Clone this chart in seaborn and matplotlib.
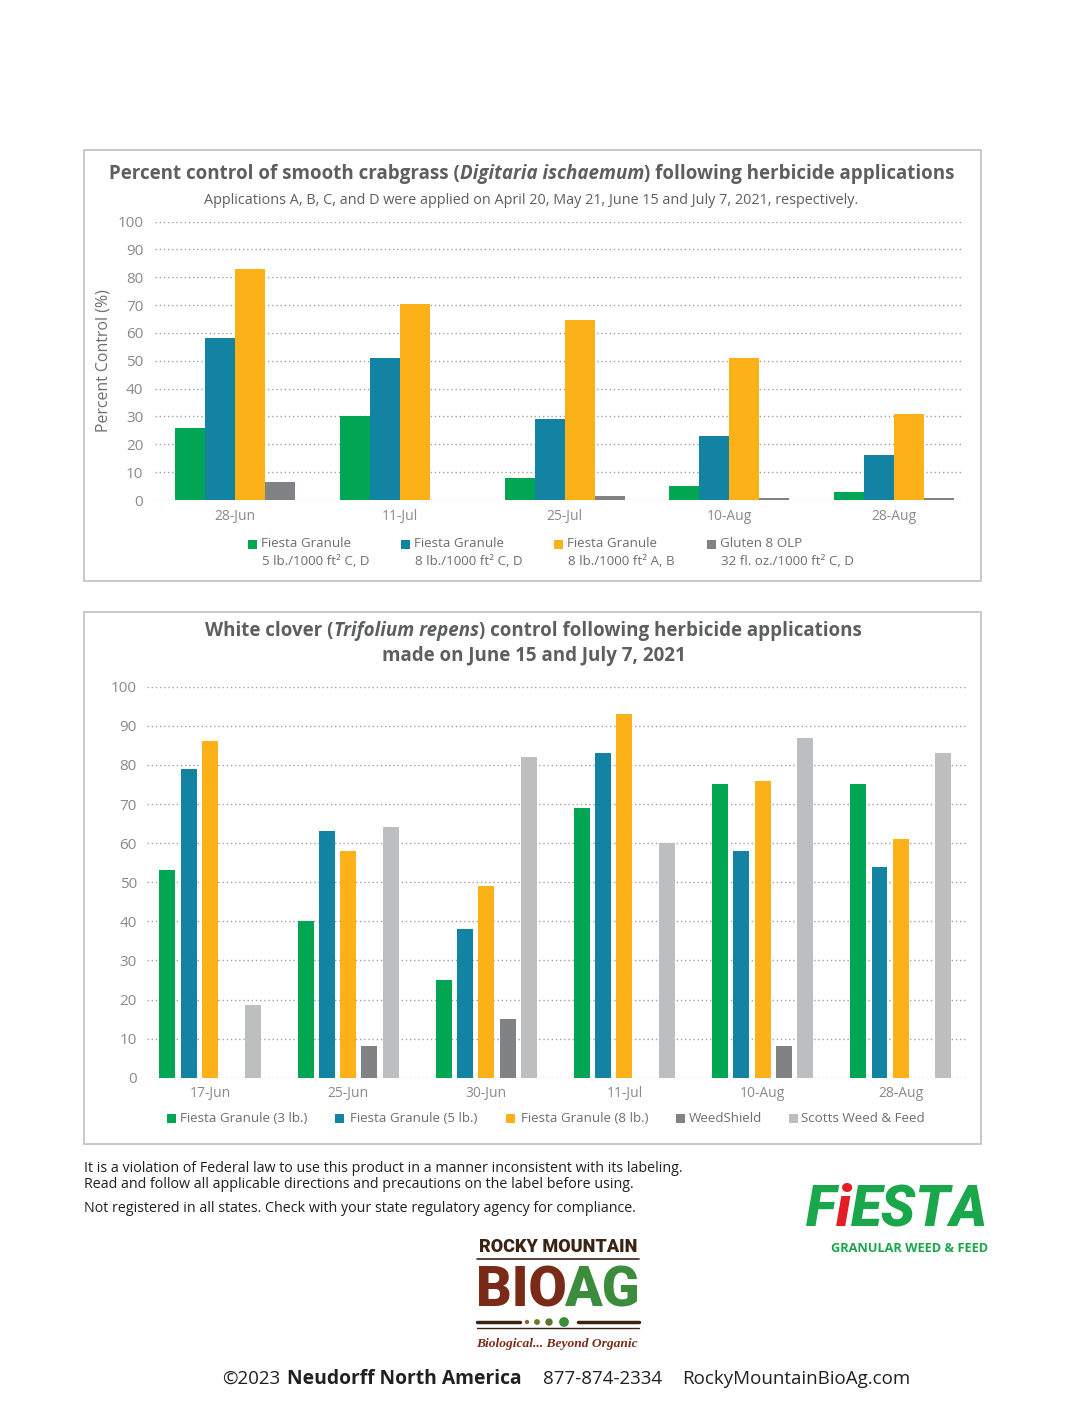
import matplotlib
matplotlib.use('Agg')
import matplotlib.pyplot as plt
import seaborn as sns
import pandas as pd
import numpy as np
from matplotlib.patches import Rectangle, Ellipse
from matplotlib.lines import Line2D
from matplotlib.offsetbox import TextArea, HPacker, AnnotationBbox

# ---------------- data ----------------
crab_dates = ['28-Jun', '11-Jul', '25-Jul', '10-Aug', '28-Aug']
crab_fg5_cd = [26, 30, 8, 5, 3]
crab_fg8_cd = [58, 51, 29, 23, 16]
crab_fg8_ab = [83, 70.5, 64.5, 51, 31]
crab_gluten = [6.5, 0, 1.5, 0.7, 0.6]
crab_names = ['Fiesta Granule 5 C,D', 'Fiesta Granule 8 C,D', 'Fiesta Granule 8 A,B', 'Gluten 8 OLP']
crab_leg1 = ['Fiesta Granule', 'Fiesta Granule', 'Fiesta Granule', 'Gluten 8 OLP']
crab_leg2 = ['5 lb./1000 ft² C, D', '8 lb./1000 ft² C, D', '8 lb./1000 ft² A, B', '32 fl. oz./1000 ft² C, D']

clover_dates = ['17-Jun', '25-Jun', '30-Jun', '11-Jul', '10-Aug', '28-Aug']
clover_fg3 = [53, 40, 25, 69, 75, 75]
clover_fg5 = [79, 63, 38, 83, 58, 54]
clover_fg8 = [86, 58, 49, 93, 76, 61]
clover_weed = [0, 8, 15, 0, 8, 0]
clover_scotts = [18.5, 64, 82, 60, 87, 83]
clover_names = ['Fiesta Granule (3 lb.)', 'Fiesta Granule (5 lb.)', 'Fiesta Granule (8 lb.)',
                'WeedShield', 'Scotts Weed & Feed']

yticks = list(range(0, 101, 10))

crab_colors = ['#00a651', '#1283a3', '#fdb119', '#808285']
clover_colors = ['#00a651', '#1283a3', '#fdb119', '#808285', '#bcbec0']

# ---------------- setup ----------------
sns.set_theme(style='white')
FAM = ['Open Sans', 'DejaVu Sans']
plt.rcParams['font.family'] = FAM

W, H = 1065, 1420
fig = plt.figure(figsize=(W / 100, H / 100), dpi=100)
fig.patch.set_facecolor('white')

TXT = '#6d6e71'
TTL = '#5d5e60'
TICK = '#8a8a8a'


def fx(x):
    return x / W


def fy(y):
    return 1 - y / H


def rich(pieces, x, y, size, color=TTL, weight='bold', ha=0.5, family=FAM):
    children = []
    for piece in pieces:
        txt, style = piece[0], piece[1]
        col = piece[2] if len(piece) > 2 else color
        props = dict(size=size, color=col, weight=weight, style=style, family=family)
        children.append(TextArea(txt, textprops=props))
    box = HPacker(children=children, align='baseline', pad=0, sep=0)
    ab = AnnotationBbox(box, (fx(x), fy(y)), xycoords='figure fraction',
                        box_alignment=(ha, 0.5), frameon=False, pad=0)
    fig.add_artist(ab)


# panel frames
for (x0, y0, x1, y1) in [(84, 150, 981, 581), (84, 612, 981, 1144)]:
    fig.add_artist(Rectangle((fx(x0), fy(y1)), fx(x1) - fx(x0), fy(y0) - fy(y1),
                             transform=fig.transFigure, fill=False,
                             edgecolor='#c9c9c9', lw=1.4))

GRID = dict(color='#a0a0a0', lw=1.0, linestyle=(0, (1, 2.0)))

# ---------------- top chart ----------------
crab = pd.DataFrame({'date': crab_dates,
                     crab_names[0]: crab_fg5_cd,
                     crab_names[1]: crab_fg8_cd,
                     crab_names[2]: crab_fg8_ab,
                     crab_names[3]: crab_gluten}).melt(id_vars='date', var_name='product', value_name='pct')

ax1 = fig.add_axes([fx(155), fy(500), fx(963) - fx(155), fy(221.5) - fy(500)])
sns.barplot(data=crab, x='date', y='pct', hue='product', hue_order=crab_names,
            palette=crab_colors, width=0.73, errorbar=None, legend=False,
            saturation=1, linewidth=0, ax=ax1)
ax1.set_xlim(-0.488, 4.42)
ax1.set_ylim(0, 100)
ax1.set_yticks(yticks)
ax1.set_axisbelow(True)
ax1.yaxis.grid(True, **GRID)
ax1.xaxis.grid(False)
sns.despine(ax=ax1, left=True, bottom=True)
ax1.tick_params(axis='y', length=0, pad=8.5, labelsize=11, labelcolor=TICK)
ax1.tick_params(axis='x', length=0, pad=6.5, labelsize=10, labelcolor=TICK)
ax1.set_xlabel('')
ax1.set_ylabel('Percent Control (%)', fontsize=11.4, color=TXT, labelpad=4)
ax1.patch.set_alpha(0)

rich([('Percent control of smooth crabgrass (', 'normal'),
      ('Digitaria ischaemum', 'italic'),
      (') following herbicide applications', 'normal')], 532, 174, 13.5)
fig.text(fx(531.5), fy(200),
         'Applications A, B, C, and D were applied on April 20, May 21, June 15 and July 7, 2021, respectively.',
         ha='center', va='center', fontsize=10.4, color=TTL)

leg_x = [248, 401, 554, 707]
for i in range(4):
    fig.add_artist(Rectangle((fx(leg_x[i]), fy(548.5)), 9 / W, 9 / H, transform=fig.transFigure,
                             facecolor=crab_colors[i], edgecolor='none'))
    fig.text(fx(leg_x[i] + 13), fy(544), crab_leg1[i], ha='left', va='center', fontsize=9.6, color=TXT)
    fig.text(fx(leg_x[i] + 14), fy(562), crab_leg2[i], ha='left', va='center', fontsize=9.6, color=TXT)

# ---------------- bottom chart ----------------
clover = pd.DataFrame({'date': clover_dates,
                       clover_names[0]: clover_fg3,
                       clover_names[1]: clover_fg5,
                       clover_names[2]: clover_fg8,
                       clover_names[3]: clover_weed,
                       clover_names[4]: clover_scotts}).melt(id_vars='date', var_name='product', value_name='pct')

ax2 = fig.add_axes([fx(147), fy(1077.7), fx(966) - fx(147), fy(686.7) - fy(1077.7)])
sns.barplot(data=clover, x='date', y='pct', hue='product', hue_order=clover_names,
            palette=clover_colors, width=0.77, gap=0.25, errorbar=None, legend=False,
            saturation=1, linewidth=0, ax=ax2)
ax2.set_xlim(-0.456, 5.472)
ax2.set_ylim(0, 100)
ax2.set_yticks(yticks)
ax2.set_axisbelow(True)
ax2.yaxis.grid(True, **GRID)
ax2.xaxis.grid(False)
sns.despine(ax=ax2, left=True, bottom=True)
ax2.tick_params(axis='y', length=0, pad=7.2, labelsize=11, labelcolor=TICK)
ax2.tick_params(axis='x', length=0, pad=5.8, labelsize=10, labelcolor=TICK)
ax2.set_xlabel('')
ax2.set_ylabel('')
ax2.patch.set_alpha(0)

rich([('White clover (', 'normal'), ('Trifolium repens', 'italic'),
      (') control following herbicide applications', 'normal')], 533.5, 631, 13.5)
rich([('made on June 15 and July 7, 2021', 'normal')], 533.5, 656, 13.5)

leg2_sq = [167, 335, 506, 676, 789]
leg2_tx = [180, 350, 521, 689, 801]
for i in range(5):
    fig.add_artist(Rectangle((fx(leg2_sq[i]), fy(1122.5)), 9 / W, 9 / H, transform=fig.transFigure,
                             facecolor=clover_colors[i], edgecolor='none'))
    fig.text(fx(leg2_tx[i]), fy(1118), clover_names[i], ha='left', va='center', fontsize=9.6, color=TXT)

# ---------------- footer ----------------
DARK = '#231f20'
fig.text(fx(84), fy(1168), 'It is a violation of Federal law to use this product in a manner inconsistent with its labeling.',
         ha='left', va='center', fontsize=10.3, color=DARK)
fig.text(fx(84), fy(1185), 'Read and follow all applicable directions and precautions on the label before using.',
         ha='left', va='center', fontsize=10.3, color=DARK)
fig.text(fx(84), fy(1208), 'Not registered in all states. Check with your state regulatory agency for compliance.',
         ha='left', va='center', fontsize=10.3, color=DARK)

# FIESTA logo
FG = '#1aa64a'
rich([('F', 'italic', FG), ('i', 'italic', '#e31e24'), ('ESTA', 'italic', FG)],
     988, 1211, 40.8, weight='heavy', ha=1.0, family=['Roboto', 'DejaVu Sans'])
fig.text(fx(988), fy(1248), 'GRANULAR WEED & FEED', ha='right', va='center', fontsize=9.2,
         color=FG, weight='bold')

# Rocky Mountain BioAg logo
BR = '#3b2314'
RB = '#7a2b18'
GR = '#3d8b3d'
fig.text(fx(558), fy(1247), 'ROCKY MOUNTAIN', ha='center', va='center', fontsize=13,
         color=BR, weight='heavy', family=['Roboto', 'DejaVu Sans'])
fig.add_artist(Line2D([fx(477), fx(639)], [fy(1259), fy(1259)], transform=fig.transFigure, color=BR, lw=1.2))
fig.text(fx(476), fy(1291), 'BIO', ha='left', va='center', fontsize=40, color=RB,
         weight='heavy', family=['Roboto', 'DejaVu Sans'])
fig.text(fx(640), fy(1291), 'AG', ha='right', va='center', fontsize=40, color=GR,
         weight='heavy', family=['Roboto', 'DejaVu Sans'])
fig.add_artist(Line2D([fx(477), fx(520)], [fy(1322), fy(1322)], transform=fig.transFigure, color=BR, lw=2.5))
fig.add_artist(Line2D([fx(578), fx(639)], [fy(1322), fy(1322)], transform=fig.transFigure, color=BR, lw=2.5))
fig.add_artist(Line2D([fx(477), fx(639)], [fy(1328), fy(1328)], transform=fig.transFigure, color=BR, lw=1.0))
for cx, r, c in [(527, 1.5, '#8a6a3a'), (537, 2.2, '#6a7a2a'), (549, 3.0, '#5a7a2a'), (564, 4.2, GR)]:
    fig.add_artist(Ellipse((fx(cx), fy(1322)), 2 * r / W, 2 * r / H,
                           transform=fig.transFigure, color=c))
fig.text(fx(557), fy(1344), 'Biological... Beyond Organic', ha='center', va='center', fontsize=9.7,
         color=RB, weight='bold', style='italic', family=['Liberation Serif', 'DejaVu Serif'])

# bottom line
fig.text(fx(222), fy(1379), '©2023', ha='left', va='center', fontsize=13.5, color=DARK)
fig.text(fx(287), fy(1379), 'Neudorff North America', ha='left', va='center', fontsize=13.9,
         color=DARK, weight='bold')
fig.text(fx(543), fy(1379), '877-874-2334', ha='left', va='center', fontsize=13.5, color=DARK)
fig.text(fx(682), fy(1379), 'RockyMountainBioAg.com', ha='left', va='center', fontsize=13.5, color=DARK)

fig.savefig('out.png', dpi=100, facecolor='white')
